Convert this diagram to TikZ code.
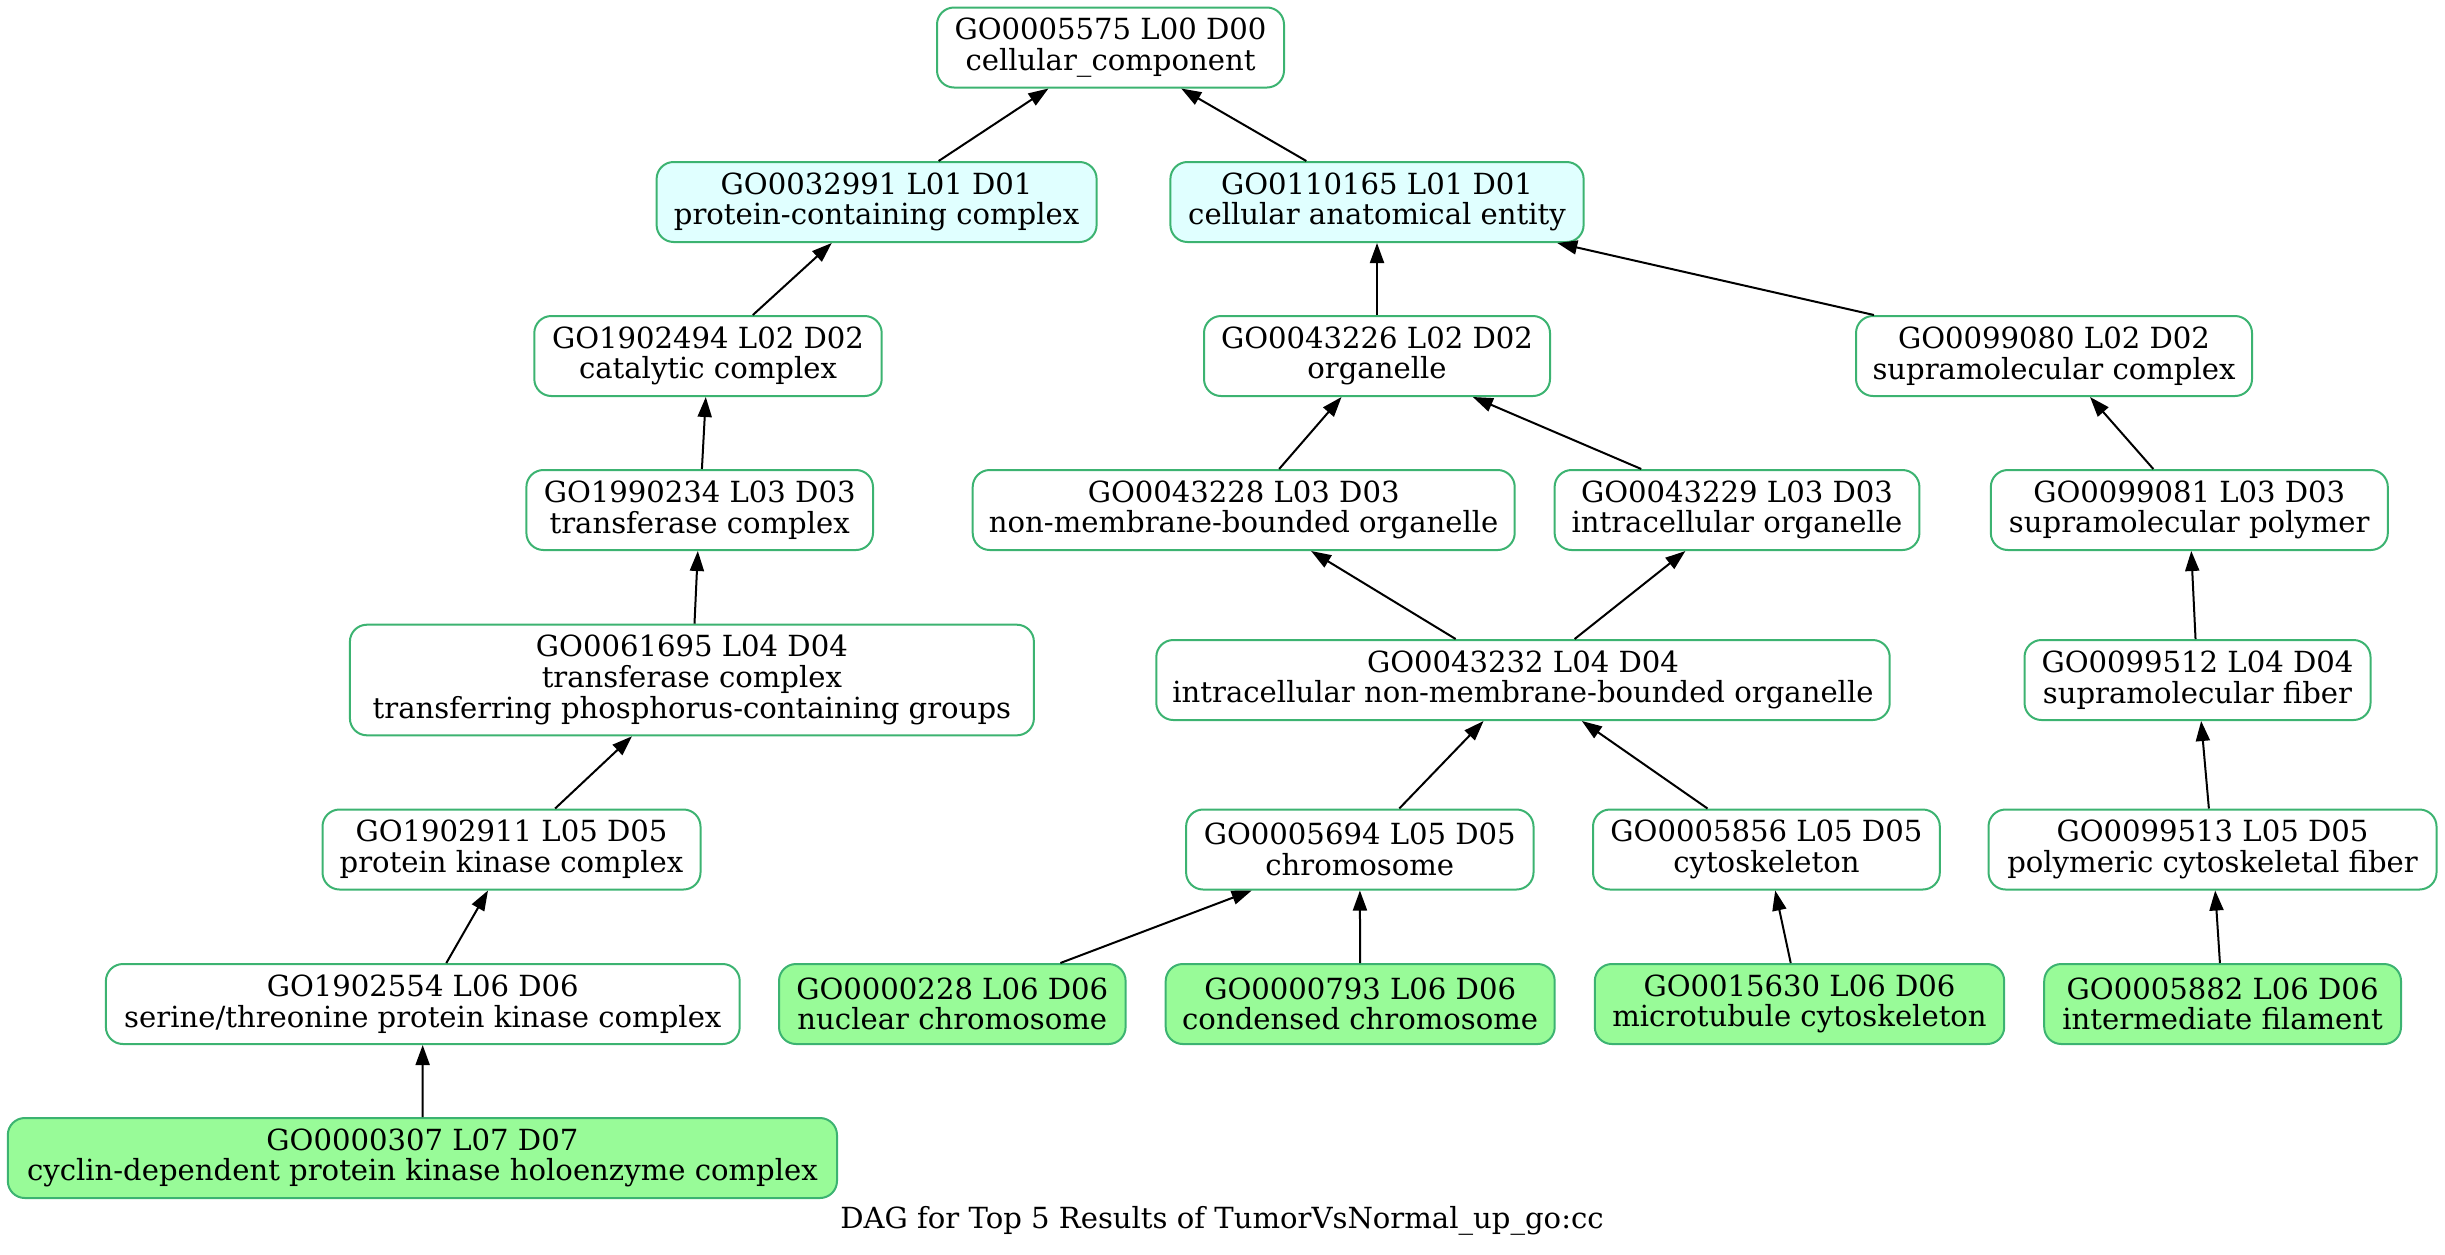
\documentclass[tikz,border=0pt]{standalone}
\usepackage{fontspec}
\setmainfont{DejaVu Serif}
\usetikzlibrary{arrows.meta}
\definecolor{termline}{RGB}{60,179,113}
\definecolor{topfill}{RGB}{224,255,255}
\definecolor{hitfill}{RGB}{152,251,152}
\newcommand{\gofont}{\fontsize{14.55}{15.3}\selectfont}
\begin{document}
\begin{tikzpicture}[x=0.5pt,y=-0.5pt,
  term/.style={draw=termline, line width=1pt, rounded corners=8.5pt,
    align=center, inner sep=0pt, minimum height=40pt, font=\gofont, fill=white},
  topterm/.style={term, fill=topfill},
  hitterm/.style={term, fill=hitfill},
  isa/.style={-{Triangle[length=10pt,width=7pt]}, line width=1pt, black}]
\useasboundingbox (0,0) rectangle (2445,1254);

% level 0 and 1
\node[term, minimum width=173.5pt] (GO0005575) at (1110.5,47.5) {GO0005575 L00 D00\\cellular\_component};
\node[topterm, minimum width=220pt] (GO0032991) at (876.6,202) {GO0032991 L01 D01\\protein-containing complex};
\node[topterm, minimum width=206.6pt] (GO0110165) at (1377,202) {GO0110165 L01 D01\\cellular anatomical entity};

% level 2
\node[term, minimum width=173.7pt] (GO1902494) at (708,356) {GO1902494 L02 D02\\catalytic complex};
\node[term, minimum width=173pt] (GO0043226) at (1377,356) {GO0043226 L02 D02\\organelle};
\node[term, minimum width=198pt] (GO0099080) at (2054,356) {GO0099080 L02 D02\\supramolecular complex};

% level 3
\node[term, minimum width=173.3pt] (GO1990234) at (699.7,510) {GO1990234 L03 D03\\transferase complex};
\node[term, minimum width=271pt] (GO0043228) at (1243.7,510) {GO0043228 L03 D03\\non-membrane-bounded organelle};
\node[term, minimum width=182.4pt] (GO0043229) at (1737,510) {GO0043229 L03 D03\\intracellular organelle};
\node[term, minimum width=198.5pt] (GO0099081) at (2189.3,510) {GO0099081 L03 D03\\supramolecular polymer};

% level 4
\node[term, minimum width=342pt, minimum height=55.3pt] (GO0061695) at (691.9,680) {GO0061695 L04 D04\\transferase complex\\transferring phosphorus-containing groups};
\node[term, minimum width=366.7pt] (GO0043232) at (1523,680) {GO0043232 L04 D04\\intracellular non-membrane-bounded organelle};
\node[term, minimum width=173pt] (GO0099512) at (2197.5,680) {GO0099512 L04 D04\\supramolecular fiber};

% level 5
\node[term, minimum width=189pt] (GO1902911) at (511.5,849.5) {GO1902911 L05 D05\\protein kinase complex};
\node[term, minimum width=173.7pt] (GO0005694) at (1359.8,849.5) {GO0005694 L05 D05\\chromosome};
\node[term, minimum width=173.4pt] (GO0005856) at (1766.4,849.5) {GO0005856 L05 D05\\cytoskeleton};
\node[term, minimum width=224pt] (GO0099513) at (2212.5,849.5) {GO0099513 L05 D05\\polymeric cytoskeletal fiber};

% level 6
\node[term, minimum width=316.9pt] (GO1902554) at (422.8,1004) {GO1902554 L06 D06\\serine/threonine protein kinase complex};
\node[hitterm, minimum width=173.3pt] (GO0000228) at (952.3,1004) {GO0000228 L06 D06\\nuclear chromosome};
\node[hitterm, minimum width=194.5pt] (GO0000793) at (1360.2,1004) {GO0000793 L06 D06\\condensed chromosome};
\node[hitterm, minimum width=204.7pt] (GO0015630) at (1799.5,1004) {GO0015630 L06 D06\\microtubule cytoskeleton};
\node[hitterm, minimum width=178.4pt] (GO0005882) at (2222.6,1004) {GO0005882 L06 D06\\intermediate filament};

% level 7
\node[hitterm, minimum width=414.6pt] (GO0000307) at (422.4,1158) {GO0000307 L07 D07\\cyclin-dependent protein kinase holoenzyme complex};

% caption
\node[font=\gofont, anchor=base, inner sep=0pt] (caption) at (1222,1228) {DAG for Top 5 Results of TumorVsNormal\_up\_go:cc};

% is_a relations, child to parent
\draw[isa] (GO0032991) -- (GO0005575);
\draw[isa] (GO0110165) -- (GO0005575);
\draw[isa] (GO1902494) -- (GO0032991);
\draw[isa] (GO0043226) -- (GO0110165);
\draw[isa] (GO0099080) -- (GO0110165);
\draw[isa] (GO1990234) -- (GO1902494);
\draw[isa] (GO0043228) -- (GO0043226);
\draw[isa] (GO0043229) -- (GO0043226);
\draw[isa] (GO0099081) -- (GO0099080);
\draw[isa] (GO0061695) -- (GO1990234);
\draw[isa] (GO0043232) -- (GO0043228);
\draw[isa] (GO0043232) -- (GO0043229);
\draw[isa] (GO0099512) -- (GO0099081);
\draw[isa] (GO1902911) -- (GO0061695);
\draw[isa] (GO0005694) -- (GO0043232);
\draw[isa] (GO0005856) -- (GO0043232);
\draw[isa] (GO0099513) -- (GO0099512);
\draw[isa] (GO1902554) -- (GO1902911);
\draw[isa] (GO0000228) -- (GO0005694);
\draw[isa] (GO0000793) -- (GO0005694);
\draw[isa] (GO0015630) -- (GO0005856);
\draw[isa] (GO0005882) -- (GO0099513);
\draw[isa] (GO0000307) -- (GO1902554);
\end{tikzpicture}
\end{document}
